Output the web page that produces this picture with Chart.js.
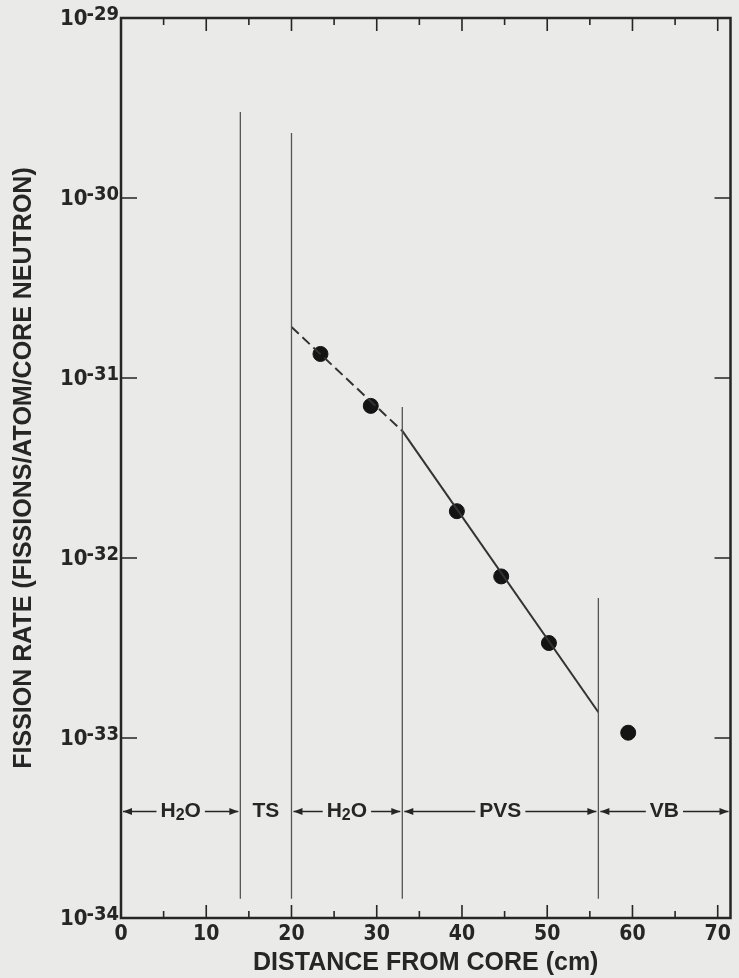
<!DOCTYPE html>
<html>
<head>
<meta charset="utf-8">
<script src="https://cdn.jsdelivr.net/npm/chart.js@4.4.1/dist/chart.umd.min.js"></script>
<style>
html, body { margin: 0; padding: 0; background: #eaeae8; }
#wrap { width: 739px; height: 978px; }
</style>
</head>
<body>
<div id="wrap"><canvas id="myChart" width="739" height="978"></canvas></div>
<script>
// ----------- DATA ------------
const meas_x = [23.4, 29.3, 39.4, 44.6, 50.2, 59.5];
const meas_y = [1.36e-31, 7.0e-32, 1.82e-32, 7.9e-33, 3.37e-33, 1.07e-33];
const dash_x = [20, 33];
const dash_y = [1.92e-31, 5.08e-32];
const fit_x = [33, 56];
const fit_y = [5.08e-32, 1.39e-33];
const boundary_x = [14, 20, 33, 56];
const boundary_top = [3.0e-30, 2.3e-30, 6.9e-32, 6.0e-33];
const boundary_bottom = 1.28e-34;
const region_from = [0, 14, 20, 33, 56];
const region_to = [14, 20, 33, 56, 71.5];
const region_names = ['H2O', 'TS', 'H2O', 'PVS', 'VB'];
const region_arrows = [true, false, true, true, true];
const region_y = 3.9e-34;
const x_ticks = [0, 10, 20, 30, 40, 50, 60, 70];
const y_exponents = [-29, -30, -31, -32, -33, -34];

// ----------- STYLE ------------
const INK = '#262626';
const NUM_FONT = "'Liberation Sans Narrow', 'DejaVu Sans Condensed', 'Liberation Sans', sans-serif";
const TXT_FONT = "'Liberation Sans', Arial, sans-serif";

function pts(xs, ys) {
  return xs.map((x, i) => ({ x: x, y: ys[i] }));
}

// ----------- DECOR PLUGIN ------------
// frame, inside tick marks, raised-exponent y labels, region labels
const decor = {
  id: 'decor',
  afterDatasetsDraw(chart) {
    const ctx = chart.ctx;
    const a = chart.chartArea;
    const xs = chart.scales.x;
    const ys = chart.scales.y;
    ctx.save();

    // frame
    ctx.strokeStyle = INK;
    ctx.lineWidth = 2.5;
    ctx.strokeRect(a.left, a.top, a.right - a.left, a.bottom - a.top);

    // x tick marks (every 5, long at 10)
    ctx.lineWidth = 1.6;
    for (let v = 5; v < xs.max; v += 5) {
      const px = xs.getPixelForValue(v);
      const len = v % 10 === 0 ? 13 : 7;
      ctx.beginPath();
      ctx.moveTo(px, a.bottom); ctx.lineTo(px, a.bottom - len);
      ctx.moveTo(px, a.top); ctx.lineTo(px, a.top + len);
      ctx.stroke();
    }

    // y tick marks and labels
    y_exponents.forEach((e) => {
      const py = ys.getPixelForValue(Math.pow(10, e));
      if (py > a.top + 2 && py < a.bottom - 2) {
        ctx.beginPath();
        ctx.moveTo(a.left, py); ctx.lineTo(a.left + 16, py);
        ctx.moveTo(a.right, py); ctx.lineTo(a.right - 16, py);
        ctx.stroke();
      }
      const exp = String(e);
      ctx.fillStyle = INK;
      ctx.textBaseline = 'middle';
      ctx.textAlign = 'left';
      ctx.font = 'bold 20px ' + NUM_FONT;
      const ew = ctx.measureText(exp).width;
      ctx.font = 'bold 22px ' + NUM_FONT;
      const bw = ctx.measureText('10').width;
      const right = a.left - 2;
      ctx.fillText('10', right - ew - bw + 1, py + 1);
      ctx.font = 'bold 20px ' + NUM_FONT;
      ctx.fillText(exp, right - ew, py - 3);
    });

    // region labels with arrows
    const py = ys.getPixelForValue(region_y);
    ctx.strokeStyle = INK;
    ctx.fillStyle = INK;
    ctx.lineWidth = 1.5;
    region_names.forEach((name, i) => {
      const x0 = xs.getPixelForValue(region_from[i]);
      const x1 = xs.getPixelForValue(region_to[i]);
      const cx = (x0 + x1) / 2;
      // split into parts, digits as subscripts
      const parts = name.split(/(\d)/).filter(s => s.length);
      let w = 0;
      const widths = parts.map((p) => {
        ctx.font = /\d/.test(p) ? 'bold 16px ' + TXT_FONT : 'bold 21px ' + TXT_FONT;
        const pw = ctx.measureText(p).width;
        w += pw;
        return pw;
      });
      let tx = cx - w / 2;
      ctx.textBaseline = 'middle';
      ctx.textAlign = 'left';
      parts.forEach((p, k) => {
        const sub = /\d/.test(p);
        ctx.font = sub ? 'bold 16px ' + TXT_FONT : 'bold 21px ' + TXT_FONT;
        ctx.fillText(p, tx, py + (sub ? 4 : 0));
        tx += widths[k];
      });
      if (!region_arrows[i]) return;
      const gap = 4;
      const l0 = x0 + 2, l1 = cx - w / 2 - gap;
      const r0 = cx + w / 2 + gap, r1 = x1 - 2;
      ctx.beginPath();
      ctx.moveTo(l0, py); ctx.lineTo(l1, py);
      ctx.moveTo(r0, py); ctx.lineTo(r1, py);
      ctx.stroke();
      // arrow heads
      ctx.beginPath();
      ctx.moveTo(l0, py); ctx.lineTo(l0 + 9, py - 3.5); ctx.lineTo(l0 + 9, py + 3.5); ctx.closePath();
      ctx.moveTo(r1, py); ctx.lineTo(r1 - 9, py - 3.5); ctx.lineTo(r1 - 9, py + 3.5); ctx.closePath();
      ctx.fill();
    });

    ctx.restore();
  }
};

// ----------- CHART ------------
function chart_layout() {
  const datasets = [];

  boundary_x.forEach((bx, i) => {
    datasets.push({
      type: 'line',
      data: [{ x: bx, y: boundary_bottom }, { x: bx, y: boundary_top[i] }],
      borderColor: '#555',
      borderWidth: 1.3,
      pointRadius: 0,
      fill: false
    });
  });

  datasets.push({
    type: 'line',
    data: pts(dash_x, dash_y),
    borderColor: '#333',
    borderWidth: 2,
    borderDash: [10, 5],
    pointRadius: 0,
    fill: false
  });
  datasets.push({
    type: 'line',
    data: pts(fit_x, fit_y),
    borderColor: '#333',
    borderWidth: 2,
    pointRadius: 0,
    fill: false
  });
  datasets.push({
    type: 'scatter',
    data: pts(meas_x, meas_y),
    backgroundColor: '#141414',
    borderColor: '#141414',
    pointRadius: 7.5,
    pointHoverRadius: 7.5
  });

  new Chart(document.getElementById('myChart'), {
    type: 'scatter',
    data: { datasets: datasets },
    options: {
      responsive: false,
      animation: false,
      devicePixelRatio: 1,
      layout: { padding: { top: 18, right: 5, left: 0, bottom: 0 } },
      plugins: { legend: { display: false }, tooltip: { enabled: false } },
      scales: {
        x: {
          type: 'linear',
          min: 0,
          max: 71.5,
          grid: { display: false, drawTicks: false },
          border: { display: false },
          afterBuildTicks: (s) => { s.ticks = x_ticks.map(v => ({ value: v })); },
          afterFit: (s) => { s.height = 60; },
          ticks: {
            color: INK,
            padding: 4,
            maxRotation: 0,
            autoSkip: false,
            font: { family: NUM_FONT, size: 21, weight: 'bold' }
          },
          title: {
            display: true,
            text: 'DISTANCE FROM CORE (cm)',
            color: INK,
            padding: { top: 2, bottom: 0 },
            font: { family: TXT_FONT, size: 25, weight: 'bold' }
          }
        },
        y: {
          type: 'logarithmic',
          min: 1e-34,
          max: 1e-29,
          grid: { display: false, drawTicks: false },
          border: { display: false },
          ticks: { display: false },
          afterFit: (s) => { s.width = 121; },
          title: {
            display: true,
            text: 'FISSION RATE (FISSIONS/ATOM/CORE NEUTRON)',
            color: INK,
            padding: { top: 9, bottom: 0 },
            font: { family: TXT_FONT, size: 25, weight: 'bold' }
          }
        }
      }
    },
    plugins: [decor]
  });
}

document.addEventListener('DOMContentLoaded', function () {
  chart_layout();
});
</script>
</body>
</html>
